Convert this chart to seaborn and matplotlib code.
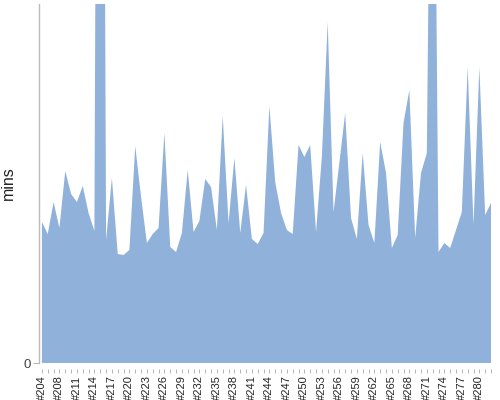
import numpy as np
import pandas as pd
import matplotlib
matplotlib.use('Agg')
import matplotlib.pyplot as plt
import seaborn as sns

# dados (minutos por build)
builds = ['#204', '#206', '#207'] + [f'#{n}' for n in range(208, 283)]
mins = [14.1, 12.9, 16.1, 13.5, 19.2, 16.9, 16.1, 17.7, 15.0, 13.2,
        160.0, 12.3, 18.5, 10.9, 10.8, 11.3, 21.7, 16.6, 12.0, 12.9,
        13.5, 23.0, 11.6, 11.1, 13.0, 19.3, 13.1, 14.2, 18.4, 17.6,
        13.3, 24.7, 14.0, 20.5, 13.0, 17.8, 12.4, 11.9, 13.0, 25.7,
        18.1, 15.0, 13.3, 12.9, 21.8, 20.6, 21.8, 13.1, 20.6, 34.1,
        15.1, 20.0, 25.0, 14.5, 12.4, 21.0, 13.8, 12.0, 22.1, 19.0,
        11.5, 12.8, 24.0, 27.3, 12.5, 19.0, 21.0, 80.0, 11.1, 12.0,
        11.5, 13.3, 15.1, 29.6, 13.8, 29.6, 14.8, 16.0]

df = pd.DataFrame({'build': builds, 'mins': mins})
df['pos'] = np.arange(len(df))

sns.set_style('white')
plt.rcParams['font.family'] = ['Liberation Sans', 'DejaVu Sans']

fig = plt.figure(figsize=(5, 4), dpi=100)
ax = fig.add_axes([39 / 500, 37 / 400, 452 / 500, 359 / 400])

ax.fill_between(df['pos'], 0, df['mins'], color='#8fb1da', linewidth=0)

ax.set_xlim(-0.5, len(df) - 1)
ax.set_ylim(0, 35.9)

# espinha de baixo deslocada (antes de mexer nos rótulos, senão eles são recriados)
ax.spines['bottom'].set_position(('outward', 4))
ax.spines['bottom'].set_visible(False)
for s in ['top', 'right']:
    ax.spines[s].set_visible(False)
ax.spines['left'].set_color('#bbbbbb')
ax.spines['left'].set_linewidth(1)

# eixo x: marca em cada build, rótulo a cada 3
ax.set_xticks(df['pos'])
ax.set_xticklabels([b if i % 3 == 0 else '' for i, b in enumerate(df['build'])],
                   rotation=90, fontsize=8, color='#222222')
ax.tick_params(axis='x', length=3, width=0.6, color='#aaaaaa', pad=2, direction='out', bottom=True)

ax.set_yticks([0])
ax.set_yticklabels(['0'], fontsize=9.5, color='#444444')
ax.tick_params(axis='y', length=4, width=0.6, color='#aaaaaa', pad=2, left=True)
ax.set_ylabel('mins', fontsize=11.5, color='#222222', labelpad=5)

fig.savefig('out.png', dpi=100)
